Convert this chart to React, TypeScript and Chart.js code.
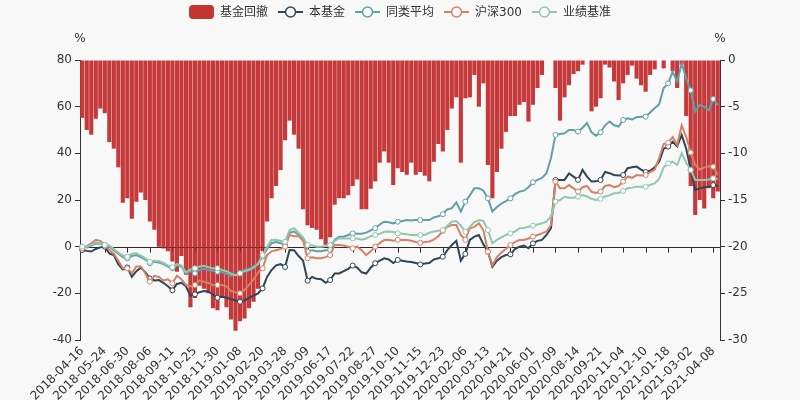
import React, { useEffect, useRef } from 'react';
import { Chart, registerables } from 'chart.js';

Chart.register(...registerables);

// x-axis tick labels (one every 5 data points)
const tickDates = [
  '2018-04-16', '2018-05-24', '2018-06-30', '2018-08-06', '2018-09-11', '2018-10-25',
  '2018-11-30', '2019-01-08', '2019-02-20', '2019-03-28', '2019-05-09', '2019-06-17',
  '2019-07-22', '2019-08-27', '2019-10-10', '2019-11-15', '2019-12-23', '2020-02-06',
  '2020-03-13', '2020-04-21', '2020-06-01', '2020-07-09', '2020-08-14', '2020-09-21',
  '2020-11-04', '2020-12-10', '2021-01-18', '2021-03-02', '2021-04-08',
];

// 基金回撤 (%), right axis
const drawdown = [
  -6.2, -7.5, -8, -6.3, -5.2,
  -5.7, -8.8, -9.5, -11.5, -15.3,
  -14.8, -17, -15.2, -14.2, -15,
  -17.3, -18.2, -20, -20.2, -20.5,
  -21.6, -22.7, -21, -23, -26.5,
  -25.5, -24.2, -24.5, -25, -26.6,
  -26.8, -25.5, -26.5, -27.8, -29,
  -28, -27.7, -26.6, -25.9, -24.5,
  -20.5, -17.3, -14.8, -13.5, -11.8,
  -8.6, -6.5, -8, -9.5, -16,
  -17.7, -18, -18.2, -19.2, -19.8,
  -19, -15.5, -14.8, -14.8, -14.5,
  -13.5, -12.8, -16, -16, -13.8,
  -13, -11, -9.8, -11, -13.4,
  -11.6, -12, -12.3, -11, -12.3,
  -12, -12.4, -13, -10.9, -9,
  -9.8, -7.5, -5.2, -4, -11,
  -4.1, -4, -1.6, -5, -2.5,
  -11.25, -14.8, -12, -9.5, -7.7,
  -6, -6, -4.8, -4.5, -6.6,
  -4.8, -3, -1.6, 0, 0,
  -3, -6.5, -4, -2.7, -1.5,
  -1.2, -0.5, 0, -5.5, -5,
  -4.1, -0.5, -0.8, -2.3, -4.3,
  -2.5, -1.6, -0.6, -2, -2.7,
  -3.4, -1.6, -1, 0, -0.9,
  0, -1.2, -3, -0.5, -6,
  -13.5, -16.6, -15, -15.9, -13.75,
  -14.8, -14.1,
];

// 本基金 (%)
const fundReturn = [
  -1.4, -1.8, -2.1, -1.0, -0.3,
  0, -2.9, -3.6, -7.5, -9.8,
  -8.9, -12.9, -10.5, -9.0, -11,
  -13.6, -14.5, -14.3, -15.5, -17,
  -18.7, -16, -15.5, -17, -21,
  -20.4, -19.5, -19, -19.3, -20.5,
  -21.9, -21.5, -21.8, -22.5, -23,
  -23.6, -23, -22, -21, -20,
  -17.9, -13, -10, -8, -7.5,
  -8.7, -1.4, -1.5, -4, -6,
  -14.6, -13, -13.8, -14, -15.5,
  -14.3, -11.5, -11.5, -10.5, -9.5,
  -8.1, -9, -11, -11.5, -9,
  -7.1, -6, -5, -5.5, -7,
  -5.7, -6, -6.4, -6.6, -7,
  -7.6, -7.2, -7, -5.5, -5,
  -4.3, -1.5, 0.7, 2.5, -6,
  -3.1, 2.9, 4.3, 5, 1,
  -2.1, -8.6, -6, -4.5, -3.6,
  -3.3, -1, 0, 0.5, -0.7,
  1.4, 2.5, 2.9, 5, 7.9,
  28.6, 28.6, 28.6, 31.4, 30,
  28.6, 32.9, 30, 27.9, 28,
  28.6, 32, 31.5, 30.7, 30.5,
  30.7, 33.6, 34, 34.3, 33,
  32, 32.5, 34, 36.4, 42,
  42.9, 45, 43, 47.9, 42,
  32.9, 24.3, 25, 25.5, 25.7,
  26.4, 26,
];

// 同类平均 (%)
const peerAverage = [
  0, -0.3, 0.5, 1.4, 1.2,
  0.7, 0, -1.5, -3, -4.5,
  -5, -4, -3.6, -4.5, -5.5,
  -7.1, -6.5, -6.8, -7.5, -8.5,
  -9.3, -8, -8.5, -11.5, -10.5,
  -11.4, -10, -9.5, -10, -10.3,
  -10.7, -11, -11.5, -12.5, -12.3,
  -11.5, -10, -9.5, -8.5, -7,
  -4.3, -1, 1.5, 2, 1.5,
  0.7, 6, 6.5, 5, 3,
  -2.1, -1.5, -2, -2, -1.5,
  -1.4, 3, 4.3, 4.3, 5,
  5.7, 5.5, 5.5, 6, 7,
  7.9, 9.5, 10.7, 10.5, 10,
  10.7, 11, 11.4, 11.2, 11.4,
  11.4, 11.4, 11.4, 12.5, 13,
  13.9, 16, 16.5, 19, 15,
  19.3, 22, 25, 25, 24,
  20.7, 15, 17, 18.5, 19.5,
  20.7, 22.5, 23.6, 24, 25.5,
  27.6, 28.6, 29.5, 31.5, 38,
  47.9, 48.3, 48.6, 50, 50,
  49.3, 51, 53, 49, 47.5,
  49, 52, 53.6, 52, 51.5,
  54.3, 55, 54.5, 55.5, 55.7,
  55.7, 57.5, 59.3, 61, 68,
  70, 75, 70.7, 78.6, 72,
  67, 57.9, 60.7, 60, 58.5,
  63.3, 60.7,
];

// 沪深300 (%)
const csi300 = [
  -0.7, 0.2, 1.4, 2.9, 2.5,
  0.7, -1.4, -3, -6, -9.3,
  -9.3, -11.4, -8.5, -8.5, -11.5,
  -15, -12.5, -13, -14.5, -14,
  -15.7, -12.5, -14, -16.4, -17,
  -16.4, -14.5, -15, -15.5, -16.5,
  -16.4, -16.4, -17, -19, -19.5,
  -20, -18.5, -16.4, -14, -11,
  -9.3, -3.6, -2, -1.5, -1,
  0, 5, 4.5, 4.5, 2.5,
  -5, -4.5, -5, -5, -4.5,
  -3.6, 0.7, 0.7, 0.5, 0,
  -0.7, 0, -1.5, -3.6, -2,
  0, 1.5, 2.9, 3, 2.5,
  2.9, 2.9, 2.9, 2.5, 2,
  1.7, 2, 2.2, 3, 4.5,
  6.7, 8.5, 9.3, 9.3, 5,
  2.9, 7.9, 8.5, 10, 7,
  -2.1, -7.9, -4.5, -2.5, -1,
  0.7, 2, 2.9, 2.9, 3.5,
  4.3, 5, 5.7, 6.5, 9.3,
  27.9, 25, 25, 26.4, 25,
  23.6, 25.5, 26, 23.5, 23,
  23.6, 26, 26.4, 25.5, 26,
  27.9, 30, 29.5, 30.7, 30.5,
  30.7, 32, 33, 38, 44,
  44.6, 47, 43.6, 52, 47,
  40.4, 35, 33, 34, 34.5,
  34.3, 30.7,
];

// 业绩基准 (%)
const benchmark = [
  0, 0, 0.8, 1.8, 1.5,
  0.7, 0.5, -1, -2.5, -3.8,
  -4.3, -3, -2.8, -3.8, -5,
  -6.5, -6, -6.2, -7, -8,
  -8.8, -7.5, -8, -11, -9.8,
  -9.3, -8.5, -8.2, -8.8, -9.3,
  -9.3, -10, -10.5, -11.5, -12.2,
  -11.4, -10.5, -10, -9, -7.5,
  -3.6, 0, 2.9, 3, 2.5,
  2.1, 7.1, 7.9, 6, 4,
  0.7, 0.5, 0, 0, 0.3,
  0.7, 2.5, 3.6, 3.5, 3.5,
  3.6, 3.5, 3, 3.5, 4.5,
  5, 5.5, 6.4, 6.5, 6.3,
  5.7, 5.5, 5.3, 5, 5,
  5, 5, 6, 6.5, 6.8,
  7.1, 9, 10.7, 11, 9,
  6.4, 8.5, 10.5, 11.4, 11,
  7.1, 1.4, 2.9, 4, 5,
  5.7, 6.5, 7.9, 8, 8.5,
  9, 9.5, 10, 10.7, 13,
  19.3, 20, 21.4, 21, 21,
  21.4, 22.1, 21.5, 20.5, 20,
  20.5, 21.5, 22, 22.9, 23,
  23.9, 25, 25.3, 25.7, 25.7,
  25.7, 26.5, 27.1, 29, 34,
  35.7, 36.4, 35, 40, 36,
  32.9, 28.6, 28.6, 28.6, 28.8,
  29.3, 29,
];

const STEP = 5;
const categories = fundReturn.map((_, i) => (i % STEP === 0 ? tickDates[i / STEP] ?? '' : ''));

const FONT = '"DejaVu Sans", "Noto Sans CJK SC", sans-serif';
const TEXT = '#333';

const legendItems = [
  { label: '基金回撤', color: '#c23531', kind: 'bar' },
  { label: '本基金', color: '#2f4554', kind: 'line' },
  { label: '同类平均', color: '#61a0a8', kind: 'line' },
  { label: '沪深300', color: '#d48265', kind: 'line' },
  { label: '业绩基准', color: '#91c7ae', kind: 'line' },
];

function drawZeroAxis(chart: any, color: string) {
  const { ctx, chartArea, scales } = chart;
  const y0 = Math.round(scales.y.getPixelForValue(0)) + 0.5;
  ctx.save();
  ctx.strokeStyle = color;
  ctx.lineWidth = 1;
  ctx.beginPath();
  ctx.moveTo(chartArea.left, y0);
  ctx.lineTo(chartArea.right, y0);
  for (let i = 0; i < categories.length; i += STEP) {
    const x = Math.round(scales.x.getPixelForValue(i)) + 0.5;
    ctx.moveTo(x, y0);
    ctx.lineTo(x, y0 + 5);
  }
  ctx.stroke();
  ctx.restore();
}

const decorPlugin = {
  id: 'decor',
  beforeDatasetsDraw(chart: any) {
    drawZeroAxis(chart, TEXT);
  },
  afterDatasetDraw(chart: any, args: any) {
    if (args.index === 0) drawZeroAxis(chart, 'rgba(60,20,20,0.4)');
  },
  afterDraw(chart: any) {
    const { ctx, chartArea } = chart;
    ctx.save();
    ctx.font = `12px ${FONT}`;
    ctx.fillStyle = TEXT;
    ctx.textAlign = 'center';
    ctx.textBaseline = 'middle';
    ctx.fillText('%', chartArea.left, 39);
    ctx.fillText('%', chartArea.right, 39);

    const iconW = 25, iconH = 14, gapIcon = 6, gapItem = 10;
    const widths = legendItems.map((it) => iconW + gapIcon + ctx.measureText(it.label).width);
    const total = widths.reduce((a, b) => a + b, 0) + gapItem * (legendItems.length - 1);
    let x = (chart.width - total) / 2;
    const cy = 12;
    legendItems.forEach((it, i) => {
      if (it.kind === 'bar') {
        ctx.fillStyle = it.color;
        ctx.beginPath();
        ctx.roundRect(x, cy - iconH / 2, iconW, iconH, 4);
        ctx.fill();
      } else {
        ctx.strokeStyle = it.color;
        ctx.lineWidth = 2;
        ctx.beginPath();
        ctx.moveTo(x, cy);
        ctx.lineTo(x + iconW, cy);
        ctx.stroke();
        ctx.beginPath();
        ctx.arc(x + iconW / 2, cy, 5, 0, Math.PI * 2);
        ctx.fillStyle = '#f8f8f8';
        ctx.fill();
        ctx.lineWidth = 1.5;
        ctx.stroke();
      }
      ctx.fillStyle = TEXT;
      ctx.textAlign = 'left';
      ctx.fillText(it.label, x + iconW + gapIcon, cy + 1);
      x += widths[i] + gapItem;
    });
    ctx.restore();
  },
};

function lineDataset(label: string, data: number[], color: string, order: number) {
  return {
    type: 'line' as const,
    label,
    data,
    yAxisID: 'y',
    borderColor: color,
    backgroundColor: color,
    borderWidth: 2,
    tension: 0,
    fill: false,
    pointRadius: (c: any) => (c.dataIndex % STEP === 0 ? 2.5 : 0),
    pointBackgroundColor: '#fff',
    pointBorderColor: color,
    pointBorderWidth: 1,
    order,
  };
}

export default function App() {
  const canvasRef = useRef<HTMLCanvasElement | null>(null);

  useEffect(() => {
    if (!canvasRef.current) return;
    const chart = new Chart(canvasRef.current, {
      type: 'bar',
      data: {
        labels: categories,
        datasets: [
          {
            type: 'bar',
            label: '基金回撤',
            data: drawdown,
            yAxisID: 'y2',
            backgroundColor: '#c5393a',
            borderWidth: 0,
            barPercentage: 0.92,
            categoryPercentage: 1,
            order: 5,
          } as any,
          lineDataset('本基金', fundReturn, '#2f4554', 4),
          lineDataset('同类平均', peerAverage, '#61a0a8', 3),
          lineDataset('沪深300', csi300, '#d48265', 2),
          lineDataset('业绩基准', benchmark, '#91c7ae', 1),
        ],
      },
      options: {
        animation: false,
        responsive: true,
        maintainAspectRatio: false,
        layout: { padding: { top: 60, left: 0, right: 0, bottom: 0 } },
        plugins: { legend: { display: false }, tooltip: { enabled: false } },
        scales: {
          x: {
            type: 'category',
            offset: true,
            grid: { display: false, drawTicks: false },
            border: { display: false },
            ticks: {
              autoSkip: false,
              minRotation: 45,
              maxRotation: 45,
              color: TEXT,
              font: { family: FONT, size: 12 },
              padding: 4,
            },
            afterFit: (s: any) => { s.height = 60; },
          },
          y: {
            position: 'left',
            min: -40,
            max: 80,
            ticks: { stepSize: 20, color: TEXT, font: { family: FONT, size: 12 }, padding: 3 },
            grid: { drawOnChartArea: false, tickLength: 5, color: TEXT },
            border: { display: true, color: TEXT },
            afterFit: (s: any) => { s.width = 80; },
          },
          y2: {
            position: 'right',
            min: -30,
            max: 0,
            ticks: { stepSize: 5, color: TEXT, font: { family: FONT, size: 12 }, padding: 3 },
            grid: { drawOnChartArea: false, tickLength: 5, color: TEXT },
            border: { display: true, color: TEXT },
            afterFit: (s: any) => { s.width = 80; },
          },
        },
      },
      plugins: [decorPlugin],
    } as any);
    return () => chart.destroy();
  }, []);

  return (
    <div style={{ position: 'fixed', left: 0, top: 0, width: 800, height: 400, background: '#f8f8f8' }}>
      <canvas ref={canvasRef} />
    </div>
  );
}
